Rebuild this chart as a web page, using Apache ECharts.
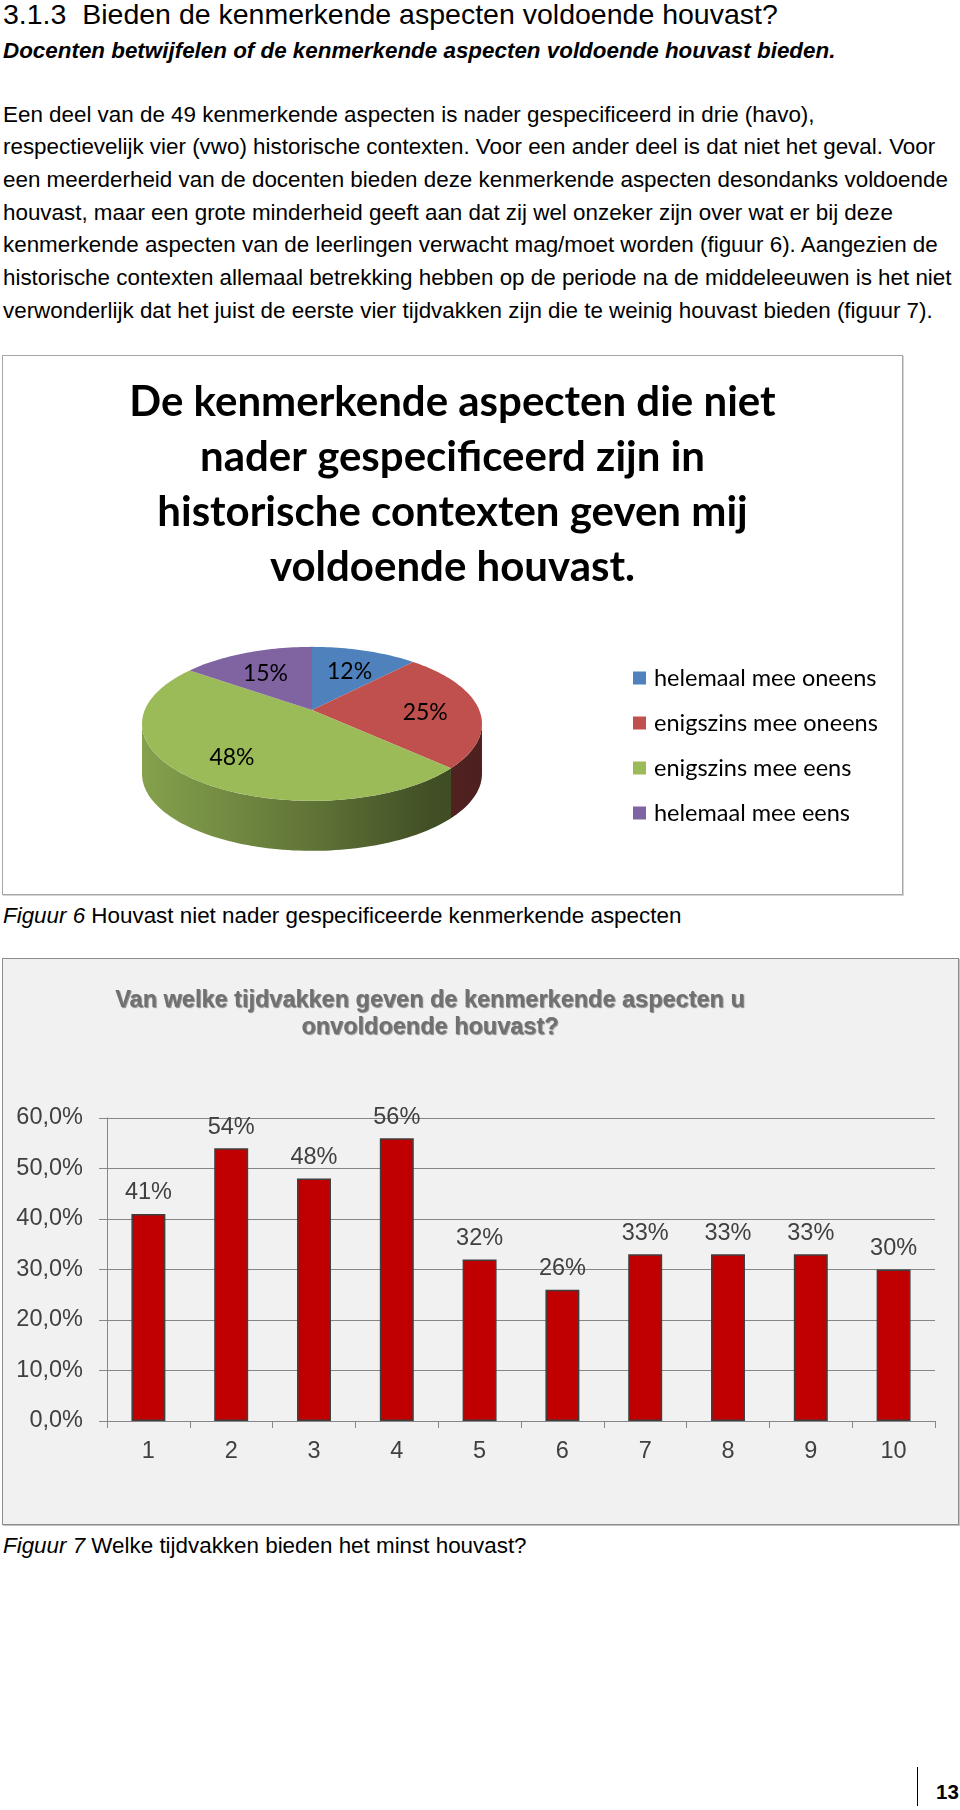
<!DOCTYPE html>
<html>
<head>
<meta charset="utf-8">
<script src="https://cdn.jsdelivr.net/npm/echarts@6/dist/echarts.min.js"></script>
<style>
html,body{margin:0;padding:0;background:#fff;}
#page{position:relative;width:960px;height:1810px;overflow:hidden;font-family:"Liberation Sans",Arial,sans-serif;color:#000;}
.ln{position:absolute;left:3px;white-space:pre;font-size:22.4px;line-height:33px;}
#c1{position:absolute;left:2px;top:355px;width:901px;height:540px;box-sizing:border-box;border:1px solid #a6a6a6;box-shadow:1px 1px 0 #d4d4d4;background:#fff;}
#c2{position:absolute;left:2px;top:958px;width:957px;height:567px;box-sizing:border-box;border:1px solid #8c8c8c;box-shadow:1px 1px 0 #c4c4c4;background:#f1f1f1;}
#pn{position:absolute;left:936px;top:1779px;font-weight:bold;font-size:20.5px;line-height:26px;}
#pnl{position:absolute;left:917px;top:1767px;height:39px;border-left:1.5px solid #000;}
</style>
</head>
<body>
<div id="page">
  <div class="ln" style="top:-2px;font-size:28.5px;">3.1.3  Bieden de kenmerkende aspecten voldoende houvast?</div>
  <div class="ln" style="top:34px;font-weight:bold;font-style:italic;">Docenten betwijfelen of de kenmerkende aspecten voldoende houvast bieden.</div>
  <div class="ln" style="top:97.5px;">Een deel van de 49 kenmerkende aspecten is nader gespecificeerd in drie (havo),</div>
  <div class="ln" style="top:130.2px;">respectievelijk vier (vwo) historische contexten. Voor een ander deel is dat niet het geval. Voor</div>
  <div class="ln" style="top:162.9px;">een meerderheid van de docenten bieden deze kenmerkende aspecten desondanks voldoende</div>
  <div class="ln" style="top:195.6px;">houvast, maar een grote minderheid geeft aan dat zij wel onzeker zijn over wat er bij deze</div>
  <div class="ln" style="top:228.3px;">kenmerkende aspecten van de leerlingen verwacht mag/moet worden (figuur 6). Aangezien de</div>
  <div class="ln" style="top:261px;">historische contexten allemaal betrekking hebben op de periode na de middeleeuwen is het niet</div>
  <div class="ln" style="top:293.7px;">verwonderlijk dat het juist de eerste vier tijdvakken zijn die te weinig houvast bieden (figuur 7).</div>

  <div id="c1"></div>
  <div class="ln" style="top:898.5px;"><i>Figuur 6</i> Houvast niet nader gespecificeerde kenmerkende aspecten</div>

  <div id="c2"></div>
  <div class="ln" style="top:1528.5px;"><i>Figuur 7</i> Welke tijdvakken bieden het minst houvast?</div>

  <div id="pnl"></div>
  <div id="pn">13</div>
</div>
<script>
// ---- data ----
const pieCategories = ['helemaal mee oneens', 'enigszins mee oneens', 'enigszins mee eens', 'helemaal mee eens'];
const pieValues = [12, 25, 48, 15];
const pieTitle = 'De kenmerkende aspecten die niet\nnader gespecificeerd zijn in\nhistorische contexten geven mij\nvoldoende houvast.';

const periods = ['1', '2', '3', '4', '5', '6', '7', '8', '9', '10'];
const barValues = [41, 54, 48, 56, 32, 26, 33, 33, 33, 30];
const yAxisMin = 0, yAxisMax = 60, yAxisStep = 10;
const barTitle = 'Van welke tijdvakken geven de kenmerkende aspecten u\nonvoldoende houvast?';

// ---- styles / 3D projection of the pie ----
const SLICE_COLORS = ['#4F81BD', '#C0504D', '#9BBB59', '#8064A2'];
const PIE = { cx: 309, apexY: 354, sx: 167.2, sy: 74.5, e: 0.18, depth: 50, labelR: 0.68, labelDy: 4 };

function shade(hex, k) {
  const n = parseInt(hex.slice(1), 16);
  const r = Math.round(((n >> 16) & 255) * k), g = Math.round(((n >> 8) & 255) * k), b = Math.round((n & 255) * k);
  return 'rgb(' + r + ',' + g + ',' + b + ')';
}
// perspective projection of a point on the pie disc (angle a clockwise from 12 o'clock, radius fraction r)
function proj(a, r, dy) {
  const d = 1 + PIE.e * r * Math.cos(a);
  return [PIE.cx + PIE.sx * r * Math.sin(a) / d, PIE.apexY - PIE.sy * r * Math.cos(a) / d + dy];
}
function arc(a0, a1, dy) {
  const n = Math.max(2, Math.ceil((a1 - a0) / (Math.PI / 120)));
  const pts = [];
  for (let k = 0; k <= n; k++) pts.push(proj(a0 + (a1 - a0) * k / n, 1, dy));
  return pts;
}
function sliceSeries(i) {
  return {
    type: 'custom', name: pieCategories[i], coordinateSystem: 'none',
    itemStyle: { color: SLICE_COLORS[i] },
    data: [[pieValues[i]]],
    renderItem: function (params, api) {
      const total = pieValues.reduce((s, v) => s + v, 0);
      let before = 0;
      for (let j = 0; j < i; j++) before += pieValues[j];
      const v = api.value(0);
      const a0 = before / total * 2 * Math.PI, a1 = (before + v) / total * 2 * Math.PI;
      const col = SLICE_COLORS[i];
      const children = [];
      const sil = Math.acos(-PIE.e);
      const s0 = Math.max(a0, sil), s1 = Math.min(a1, 2 * Math.PI - sil);
      if (s1 > s0) {
        const top = arc(s0, s1, 0), bot = arc(s0, s1, PIE.depth).reverse();
        children.push({
          type: 'polygon', shape: { points: top.concat(bot) },
          style: {
            fill: {
              type: 'linear', x: PIE.cx - 170, y: 0, x2: PIE.cx + 170, y2: 0, global: true,
              colorStops: [
                { offset: 0, color: shade(col, 0.86) },
                { offset: 0.5, color: shade(col, 0.62) },
                { offset: 0.85, color: shade(col, 0.42) },
                { offset: 1, color: shade(col, 0.4) }
              ]
            }
          }
        });
      }
      children.push({ type: 'polygon', shape: { points: [proj(0, 0, 0)].concat(arc(a0, a1, 0)) }, style: { fill: col } });
      const mid = (a0 + a1) / 2;
      const lp = proj(mid, PIE.labelR, PIE.labelDy);
      children.push({
        type: 'text', z2: 100,
        style: {
          text: Math.round(v / total * 100) + '%', x: lp[0], y: lp[1],
          align: 'center', verticalAlign: 'middle',
          fontFamily: 'Lato', fontSize: 23, fill: '#000'
        }
      });
      return { type: 'group', children: children };
    }
  };
}

const c1 = echarts.init(document.getElementById('c1'));
c1.setOption({
  animation: false,
  title: {
    text: pieTitle, left: 'center', top: 19, padding: 0,
    textStyle: { fontFamily: 'Lato', fontWeight: 'bold', fontSize: 42, lineHeight: 55, color: '#000' }
  },
  legend: {
    data: pieCategories, orient: 'vertical', left: 630, top: 310, padding: 0,
    itemWidth: 13, itemHeight: 13, itemGap: 21, icon: 'rect', selectedMode: false,
    textStyle: { fontFamily: 'Lato', fontSize: 23.5, lineHeight: 24, color: '#000', padding: [0, 0, 0, 3] }
  },
  series: pieCategories.map((_, i) => sliceSeries(i))
});

const c2 = echarts.init(document.getElementById('c2'));
const axisGray = '#868686';
const txt = '#404040';
c2.setOption({
  animation: false,
  graphic: [{
    type: 'text', x: 427, y: 55,
    style: {
      text: barTitle, align: 'center', verticalAlign: 'middle',
      fontFamily: 'Liberation Sans', fontWeight: 'bold', fontSize: 23.5, lineHeight: 27,
      fill: '#707070', textShadowColor: 'rgba(0,0,0,0.45)', textShadowOffsetX: 1, textShadowOffsetY: 1, textShadowBlur: 1
    }
  }],
  grid: { left: 104, right: 23, top: 159, bottom: 103 },
  xAxis: {
    type: 'category', data: periods,
    axisLine: { lineStyle: { color: axisGray } },
    axisTick: { show: true, length: 7, lineStyle: { color: axisGray } },
    axisLabel: { fontFamily: 'Liberation Sans', fontSize: 23.5, color: txt, margin: 19 }
  },
  yAxis: {
    type: 'value', min: yAxisMin, max: yAxisMax, interval: yAxisStep,
    axisLine: { show: true, lineStyle: { color: axisGray } },
    axisTick: { show: true, length: 8, lineStyle: { color: axisGray } },
    splitLine: { lineStyle: { color: axisGray } },
    axisLabel: {
      fontFamily: 'Liberation Sans', fontSize: 23.5, color: txt, margin: 24,
      formatter: v => v.toFixed(1).replace('.', ',') + '%'
    }
  },
  series: [{
    type: 'bar', data: barValues, barWidth: '41%',
    itemStyle: { color: '#C00000', borderColor: '#3f3f3f', borderWidth: 1.5 },
    label: {
      show: true, position: 'top', distance: 9,
      formatter: p => p.value + '%',
      fontFamily: 'Liberation Sans', fontSize: 23.5, color: txt
    }
  }]
});
</script>
</body>
</html>
